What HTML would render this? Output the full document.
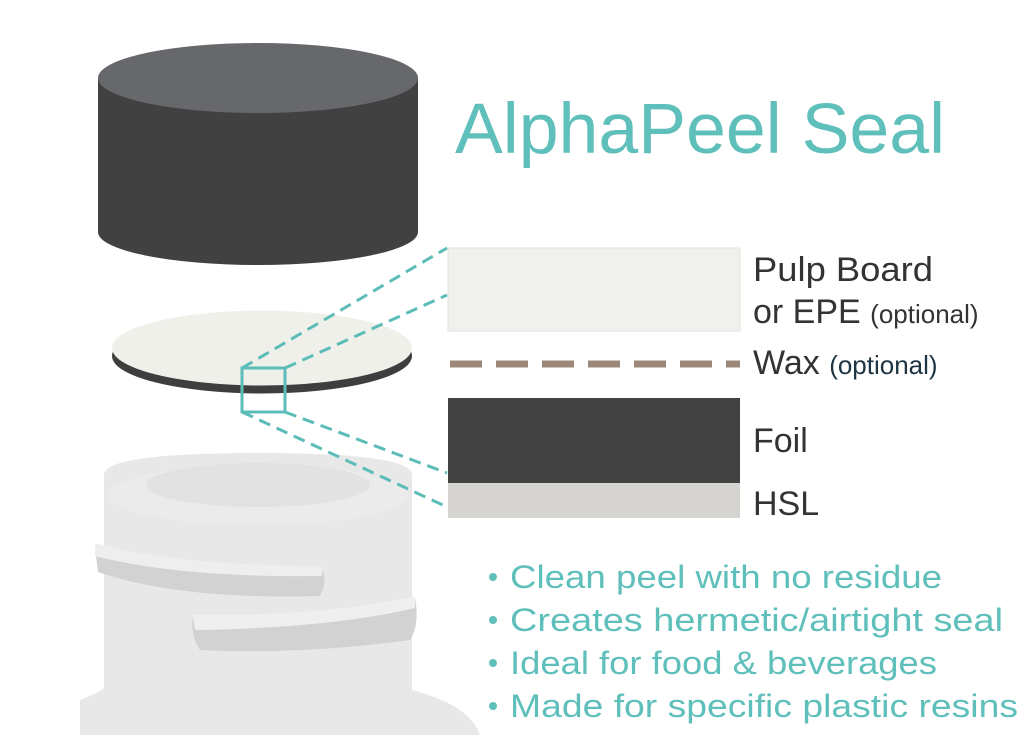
<!DOCTYPE html>
<html><head><meta charset="utf-8"><style>
html,body{margin:0;padding:0;background:#fff;}
svg{display:block}
text{font-family:"Liberation Sans",sans-serif;}
</style></head><body>
<svg width="1024" height="745" viewBox="0 0 1024 745" xmlns="http://www.w3.org/2000/svg">
<!-- bottle -->
<path d="M104 475 Q104 453 258 453 Q412 453 412 475 L412 690 Q470 705 480 735 L80 735 L80 700 Q100 692 104 688 Z" fill="#e8e8e8"/>
<ellipse cx="258" cy="495" rx="150" ry="30" fill="#ebebeb"/>
<ellipse cx="258" cy="485" rx="112" ry="22" fill="#e2e2e2"/>
<path d="M95 548 Q180 572 322 570 Q328 580 320 596 Q180 600 98 572 Z" fill="#d2d2d2"/>
<path d="M95 543 Q180 566 322 566 L322 576 Q180 578 95 556 Z" fill="#eeeeee"/>
<path d="M193 618 Q330 620 415 598 Q420 625 410 640 Q300 655 200 650 Q190 635 193 618 Z" fill="#d2d2d2"/>
<path d="M193 615 Q330 616 415 596 L415 608 Q330 628 195 630 Z" fill="#efefef"/>
<!-- cap -->
<path d="M98 78 L98 232 A160 33 0 0 0 418 232 L418 78 Z" fill="#414141"/>
<ellipse cx="258" cy="78" rx="160" ry="35" fill="#67686b"/>
<!-- disc -->
<ellipse cx="262" cy="356" rx="150" ry="37.5" fill="#3e3e3e"/>
<ellipse cx="262" cy="348" rx="150" ry="37.5" fill="#f0f0ea"/>
<!-- zoom box and lines -->
<g stroke="#5cbdb8" stroke-width="3" fill="none">
<rect x="242" y="368" width="43" height="44"/>
<g stroke-dasharray="12,7">
<line x1="242" y1="368" x2="447" y2="248"/>
<line x1="285" y1="368" x2="447" y2="295"/>
<line x1="285" y1="412" x2="447" y2="473"/>
<line x1="242" y1="412" x2="447" y2="507"/>
</g>
</g>
<!-- layers -->
<rect x="448" y="248" width="292" height="83" fill="#f0f0ec" stroke="#e2e2de" stroke-width="1"/>
<line x1="450" y1="364" x2="740" y2="364" stroke="#9b8878" stroke-width="7" stroke-dasharray="32,14"/>
<rect x="448" y="398" width="292" height="85" fill="#424242"/>
<rect x="448" y="483" width="292" height="35" fill="#d5d4d1"/>
<!-- title -->
<text x="455" y="153" font-size="71" fill="#5fbfbb" textLength="490" lengthAdjust="spacingAndGlyphs">AlphaPeel Seal</text>
<!-- labels -->
<g fill="#333" font-size="34">
<text x="753" y="281" textLength="180" lengthAdjust="spacingAndGlyphs">Pulp Board</text>
<text x="753" y="323">or EPE <tspan font-size="26">(optional)</tspan></text>
<text x="753" y="374">Wax <tspan font-size="26" fill="#1e3442">(optional)</tspan></text>
<text x="753" y="452">Foil</text>
<text x="753" y="515">HSL</text>
</g>
<!-- bullets -->
<g fill="#5fbfbb" font-size="32">
<circle cx="493" cy="577" r="4"/><circle cx="493" cy="620" r="4"/><circle cx="493" cy="663" r="4"/><circle cx="493" cy="706" r="4"/>
<text x="510" y="588" textLength="432" lengthAdjust="spacingAndGlyphs">Clean peel with no residue</text>
<text x="510" y="631" textLength="493" lengthAdjust="spacingAndGlyphs">Creates hermetic/airtight seal</text>
<text x="510" y="674" textLength="427" lengthAdjust="spacingAndGlyphs">Ideal for food &amp; beverages</text>
<text x="510" y="717" textLength="508" lengthAdjust="spacingAndGlyphs">Made for specific plastic resins</text>
</g>
</svg>
</body></html>
